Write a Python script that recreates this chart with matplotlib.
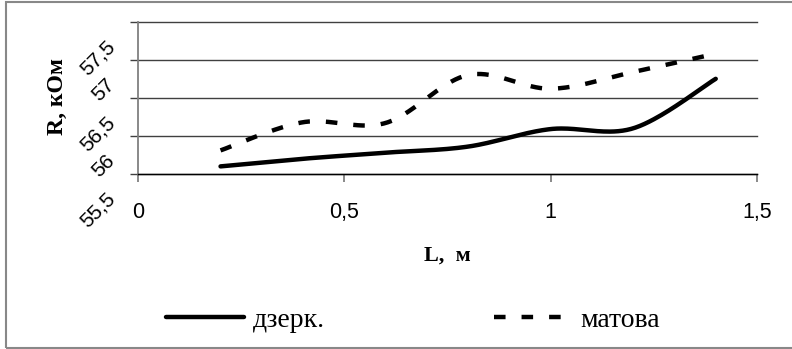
import numpy as np
import matplotlib
matplotlib.use("Agg")
import matplotlib.pyplot as plt
from matplotlib.transforms import ScaledTranslation
from matplotlib.patches import Rectangle

# measured points, L in metres, R in kOhm
L = [0.2, 0.4, 0.6, 0.8, 1.0, 1.2, 1.4]
r_mirror = [55.60, 55.70, 55.78, 55.86, 56.09, 56.10, 56.75]
r_matte = [55.81, 56.18, 56.17, 56.80, 56.62, 56.84, 57.08]

xticks = [0, 0.5, 1, 1.5]
xticklabels = ["0", "0,5", "1", "1,5"]
yticks = [55.5, 56, 56.5, 57, 57.5]
yticklabels = ["55,5", "56", "56,5", "57", "57,5"]


def smooth(x, y, n=40):
    # Excel-like smoothed line (Catmull-Rom bezier through the points)
    p = np.column_stack([x, y]).astype(float)
    p = np.vstack([p[0], p, p[-1]])
    out = []
    t = np.linspace(0, 1, n)[:, None]
    for i in range(1, len(p) - 2):
        p0, p3 = p[i], p[i + 1]
        c1 = p0 + (p[i + 1] - p[i - 1]) / 6
        c2 = p3 - (p[i + 2] - p[i]) / 6
        seg = ((1 - t) ** 3) * p0 + 3 * ((1 - t) ** 2) * t * c1 + 3 * (1 - t) * t ** 2 * c2 + t ** 3 * p3
        out.append(seg if i == 1 else seg[1:])
    out = np.vstack(out)
    return out[:, 0], out[:, 1]


serif = "Liberation Serif"
sans = "Liberation Sans"

fig = plt.figure(figsize=(7.92, 3.49), dpi=100)
ax = fig.add_axes([138 / 792, 1 - 174 / 349, (757 - 138) / 792, (174 - 21.7) / 349])

xs, ys = smooth(L, r_mirror)
ax.plot(xs, ys, color="black", lw=3.2, solid_capstyle="round", label="дзерк.", zorder=3)
xs, ys = smooth(L, r_matte)
ax.plot(xs, ys, color="black", lw=3.2, dashes=(2.6, 3.6), dash_capstyle="butt",
        label="матова", zorder=3)

ax.set_xlim(0, 1.5)
ax.set_ylim(55.5, 57.5)
ax.set_xticks(xticks, xticklabels, fontfamily=sans, fontsize=15.5)
ax.set_yticks(yticks, yticklabels, fontfamily=sans, fontsize=15)

ax.grid(axis="y", color="#404040", lw=1, zorder=1)
for g in ax.get_ygridlines():
    g.set_clip_on(False)

for s in ["top", "right"]:
    ax.spines[s].set_visible(False)
ax.spines["left"].set_color("#808080")
ax.spines["left"].set_linewidth(1.3)
ax.spines["bottom"].set_color("black")
ax.spines["bottom"].set_linewidth(1)

ax.tick_params(axis="x", direction="out", length=6, width=1.3, color="#808080", pad=14)
ax.tick_params(axis="y", direction="out", length=6, width=1, color="#404040", pad=2)

# the y tick labels sit rotated and shifted down, as in the source chart
off = ScaledTranslation(-0.15, -0.22, fig.dpi_scale_trans)
for lbl in ax.get_yticklabels():
    lbl.set_rotation(45)
    lbl.set_rotation_mode("anchor")
    lbl.set_ha("right")
    lbl.set_va("center")
    lbl.set_transform(lbl.get_transform() + off)

ax.set_ylabel("R, кОм", fontfamily=serif, fontweight="bold", fontsize=17)
ax.yaxis.set_label_coords(-0.113, 0.506)
ax.set_xlabel("L,  м", fontfamily=serif, fontweight="bold", fontsize=16)
ax.xaxis.set_label_coords(0.5, -0.47)

fig.legend(loc="center", bbox_to_anchor=(413 / 792, 0.083), ncol=2, frameon=False,
           handlelength=2.8, handletextpad=0.3, columnspacing=6.1,
           prop={"family": serif, "size": 20})

fig.patches.append(Rectangle((6 / 792, 1 / 349), 1.0, 346 / 349, transform=fig.transFigure,
                             fill=False, edgecolor="#888888", lw=1.5))

fig.savefig("out.png", dpi=100)
